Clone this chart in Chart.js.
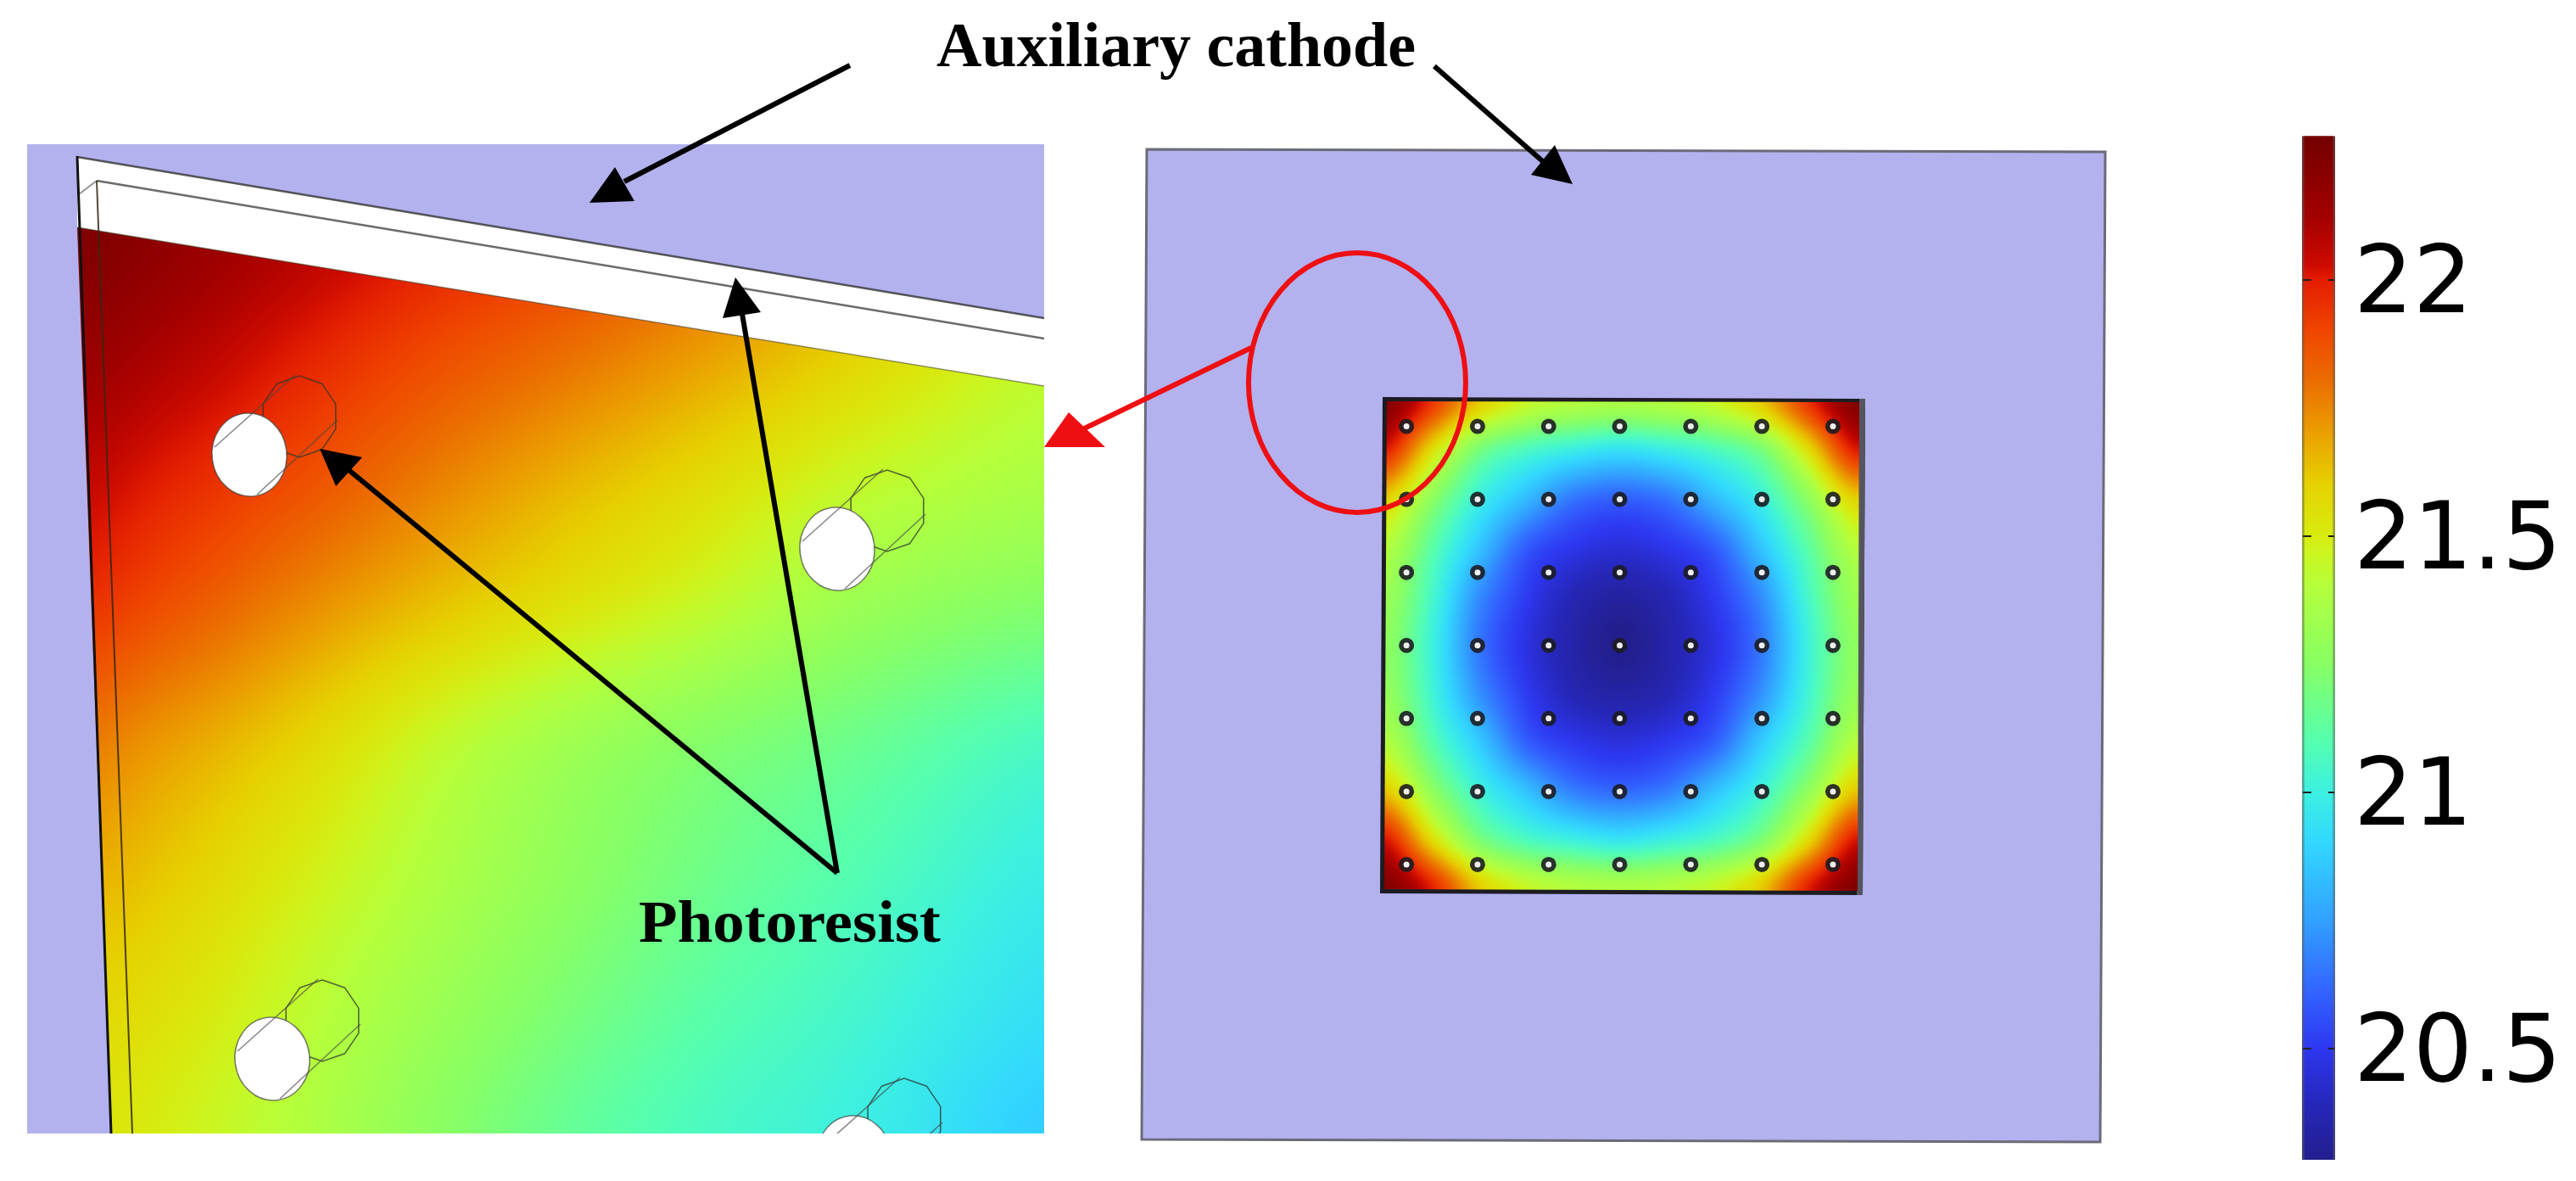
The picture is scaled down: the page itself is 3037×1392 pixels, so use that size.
<!DOCTYPE html>
<html>
<head>
<meta charset="utf-8">
<title>Auxiliary cathode</title>
<script src="https://cdn.jsdelivr.net/npm/chart.js@4/dist/chart.umd.js"></script>
<style>
  body { margin: 0; background: #fff; }
  #wrap { position: relative; width: 3037px; height: 1392px; overflow: hidden; }
  canvas { position: absolute; top: 0; }
  #figure { left: 0; }
  #colorbar { left: 2700px; }
</style>
</head>
<body>
<div id="wrap">
  <canvas id="figure" width="3037" height="1392"></canvas>
  <canvas id="colorbar" width="337" height="1392"></canvas>
</div>
<script>
// colour scale
var stopValues = [20.28, 20.4, 20.5, 20.6, 20.75, 20.9, 21, 21.1, 21.25, 21.4, 21.47, 21.5, 21.6, 21.7, 21.8, 21.9, 22, 22.03, 22.12, 22.28];
var stopColors = [
  [35, 30, 140], [38, 40, 190], [45, 55, 240], [50, 95, 255], [50, 160, 255], [50, 215, 255],
  [60, 240, 225], [85, 255, 175], [135, 255, 100], [180, 255, 60], [205, 245, 30], [215, 235, 15], [230, 210, 0],
  [235, 160, 0], [235, 110, 0], [240, 70, 0], [228, 28, 0], [205, 10, 0], [165, 0, 0], [115, 0, 0]
];
var barTicks = [20.5, 21, 21.5, 22];
var barRange = [20.283, 22.281];

// pillars on the plate, column and row numbers
var pillarCols = [0, 1, 2, 3, 4, 5, 6];
var pillarRows = [0, 1, 2, 3, 4, 5, 6];

// thickness read on the plate, in pillar units
var plateU = [-0.31, 0.35, 1.01, 1.68, 2.34, 3.0, 3.66, 4.33, 4.99, 5.65, 6.32];
var plateV = [-0.34, 0.33, 0.99, 1.66, 2.32, 2.99, 3.65, 4.32, 4.98, 5.65, 6.31];
var plateField = [
  [22.24, 21.95, 21.62, 21.46, 21.4, 21.38, 21.4, 21.46, 21.62, 21.95, 22.24],
  [22.0, 21.55, 21.2, 21.06, 20.98, 20.93, 20.98, 21.06, 21.2, 21.55, 22.0],
  [21.6, 21.27, 21.0, 20.82, 20.65, 20.6, 20.65, 20.82, 21.0, 21.27, 21.6],
  [21.4, 21.12, 20.85, 20.59, 20.49, 20.45, 20.49, 20.59, 20.85, 21.12, 21.4],
  [21.32, 21.05, 20.71, 20.51, 20.38, 20.33, 20.38, 20.51, 20.71, 21.05, 21.32],
  [21.28, 21.01, 20.66, 20.47, 20.35, 20.28, 20.35, 20.47, 20.66, 21.01, 21.28],
  [21.3, 21.03, 20.72, 20.51, 20.38, 20.34, 20.38, 20.51, 20.72, 21.03, 21.3],
  [21.4, 21.11, 20.87, 20.6, 20.5, 20.46, 20.5, 20.6, 20.87, 21.11, 21.4],
  [21.62, 21.28, 21.02, 20.84, 20.67, 20.62, 20.67, 20.84, 21.02, 21.28, 21.62],
  [22.02, 21.56, 21.22, 21.07, 21.0, 20.95, 21.0, 21.07, 21.22, 21.56, 22.02],
  [22.24, 22.0, 21.62, 21.46, 21.4, 21.38, 21.4, 21.46, 21.62, 22.0, 22.24]
];

// thickness read on the enlarged corner, in figure units
var detailX = [90, 166, 332, 498, 663, 829, 995, 1235];
var detailY = [268, 402, 580, 700, 877, 1053, 1200, 1340];
var detailField = [
  [22.24, 22.2, 22.1, 22.0, 21.92, 21.82, 21.7, 21.55],
  [22.17, 22.12, 22.01, 21.9, 21.81, 21.71, 21.6, 21.45],
  [22.05, 21.99, 21.88, 21.76, 21.65, 21.55, 21.44, 21.36],
  [21.96, 21.9, 21.77, 21.65, 21.55, 21.45, 21.33, 21.25],
  [21.78, 21.72, 21.6, 21.45, 21.33, 21.24, 21.17, 21.06],
  [21.66, 21.62, 21.5, 21.38, 21.27, 21.17, 21.09, 20.98],
  [21.58, 21.55, 21.44, 21.32, 21.21, 21.11, 21.04, 20.93],
  [21.53, 21.5, 21.4, 21.27, 21.15, 21.06, 21.0, 20.87]
];

// enlarged holes: centre of the white ellipse in figure units
var holeX = [294, 987, 321, 1007];
var holeY = [536, 647, 1248, 1364];

var labelNames = ['Auxiliary cathode', 'Photoresist'];

var LAVENDER = '#b3b2ef';

function lerpColor(v) {
  var n = stopValues.length;
  if (v <= stopValues[0]) return stopColors[0];
  if (v >= stopValues[n - 1]) return stopColors[n - 1];
  var i = 0;
  while (v > stopValues[i + 1]) i++;
  var t = (v - stopValues[i]) / (stopValues[i + 1] - stopValues[i]);
  var a = stopColors[i], b = stopColors[i + 1];
  return [a[0] + (b[0] - a[0]) * t, a[1] + (b[1] - a[1]) * t, a[2] + (b[2] - a[2]) * t];
}

function gridPos(axis, v) {
  var n = axis.length, i = 0;
  if (v <= axis[0]) return 0;
  if (v >= axis[n - 1]) return n - 1;
  while (v > axis[i + 1]) i++;
  return i + (v - axis[i]) / (axis[i + 1] - axis[i]);
}

function cubic(p0, p1, p2, p3, t) {
  return p1 + 0.5 * t * (p2 - p0 + t * (2 * p0 - 5 * p1 + 4 * p2 - p3 + t * (3 * (p1 - p2) + p3 - p0)));
}

function sampleField(field, gx, gy) {
  var rows = field.length, cols = field[0].length;
  var ix = Math.min(Math.floor(gx), cols - 2), iy = Math.min(Math.floor(gy), rows - 2);
  var tx = gx - ix, ty = gy - iy;
  var col = [];
  for (var k = -1; k <= 2; k++) {
    var r = field[Math.max(0, Math.min(rows - 1, iy + k))];
    col.push(cubic(r[Math.max(0, ix - 1)], r[ix], r[ix + 1], r[Math.min(cols - 1, ix + 2)], tx));
  }
  return cubic(col[0], col[1], col[2], col[3], ty);
}

// paints a field through the scales, box is in canvas pixels
function paintField(ctx, xs, ys, axisX, axisY, field, box, blur) {
  var w = box[2] - box[0], h = box[3] - box[1];
  var off = document.createElement('canvas');
  off.width = w; off.height = h;
  var octx = off.getContext('2d');
  var img = octx.createImageData(w, h);
  var gxs = [];
  for (var i = 0; i < w; i++) gxs.push(gridPos(axisX, xs.getValueForPixel(box[0] + i)));
  var p = 0;
  for (var j = 0; j < h; j++) {
    var gy = gridPos(axisY, ys.getValueForPixel(box[1] + j));
    for (var q = 0; q < w; q++) {
      var c = lerpColor(sampleField(field, gxs[q], gy));
      img.data[p++] = c[0]; img.data[p++] = c[1]; img.data[p++] = c[2]; img.data[p++] = 255;
    }
  }
  octx.putImageData(img, 0, 0);
  ctx.save();
  ctx.filter = 'blur(' + blur + 'px)';
  ctx.drawImage(off, box[0], box[1]);
  ctx.restore();
}

function poly(ctx, pts) {
  ctx.beginPath();
  ctx.moveTo(pts[0][0], pts[0][1]);
  for (var i = 1; i < pts.length; i++) ctx.lineTo(pts[i][0], pts[i][1]);
  ctx.closePath();
}

function segment(ctx, a, b, color, width) {
  ctx.strokeStyle = color;
  ctx.lineWidth = width;
  ctx.beginPath();
  ctx.moveTo(a[0], a[1]);
  ctx.lineTo(b[0], b[1]);
  ctx.stroke();
}

function drawHole(ctx, cx, cy) {
  var ox = cx + 59, oy = cy - 45, i, pts = [];
  // far end of the hole, a rough polygon
  for (i = 0; i < 10; i++) {
    var a = -Math.PI / 2 + i * Math.PI / 5;
    pts.push([ox + 45 * Math.cos(a), oy + 48 * Math.sin(a)]);
  }
  ctx.strokeStyle = 'rgba(45,55,45,0.75)';
  ctx.lineWidth = 1.6;
  poly(ctx, pts);
  ctx.stroke();
  ctx.beginPath();
  ctx.ellipse(cx, cy, 44, 49, -0.12, 0, Math.PI * 2);
  ctx.fillStyle = '#fff';
  ctx.fill();
  ctx.strokeStyle = 'rgba(70,70,70,0.7)';
  ctx.lineWidth = 1.5;
  ctx.stroke();
  segment(ctx, [cx - 41, cy - 9], [cx + 54, cy - 94], 'rgba(70,70,70,0.65)', 1.6);
  segment(ctx, [cx + 9, cy + 47], [cx + 104, cy - 41], 'rgba(70,70,70,0.65)', 1.6);
}

var arrows = [
  { from: [1002, 77], to: [736, 214], head: [[725, 197], [695, 239], [748, 237]], color: '#000' },
  { from: [1691, 78], to: [1830, 200], head: [[1833, 171], [1805, 206], [1854, 217]], color: '#000' },
  { from: [987, 1029], to: [410, 553], head: [[377, 529], [427, 539], [396, 573]], color: '#000' },
  { from: [987, 1029], to: [875, 370], head: [[867, 327], [852, 375], [897, 368]], color: '#000' },
  { from: [1475, 410], to: [1268, 510], head: [[1231, 527], [1260, 486], [1303, 527]], color: '#ee0f13' }
];

function fittedText(ctx, text, x0, x1, baseline, font) {
  ctx.save();
  ctx.font = font;
  ctx.fillStyle = '#000';
  ctx.textBaseline = 'alphabetic';
  var w = ctx.measureText(text).width;
  ctx.translate(x0, baseline);
  ctx.scale((x1 - x0) / w, 1);
  ctx.fillText(text, 0, 0);
  ctx.restore();
}

var backdrop = {
  id: 'backdrop',
  beforeDatasetsDraw: function (chart) {
    var ctx = chart.ctx, s = chart.scales;
    ctx.save();
    ctx.fillStyle = '#fff';
    ctx.fillRect(0, 0, chart.width, chart.height);

    // enlarged corner
    ctx.save();
    ctx.beginPath();
    ctx.rect(32, 170, 1199, 1166);
    ctx.clip();
    ctx.fillStyle = LAVENDER;
    ctx.fillRect(32, 170, 1199, 1166);
    poly(ctx, [[91, 185], [1231, 375], [1231, 455], [91, 268]]);
    ctx.fillStyle = '#fff';
    ctx.fill();
    ctx.save();
    poly(ctx, [[91, 268], [1231, 455], [1231, 1336], [131, 1336]]);
    ctx.clip();
    paintField(ctx, s.x, s.y, detailX, detailY, detailField, [30, 200, 1300, 1400], 22);
    ctx.restore();
    segment(ctx, [91, 185], [1231, 375], 'rgba(50,50,50,0.8)', 2.5);
    segment(ctx, [114, 213], [1231, 399], 'rgba(70,70,70,0.8)', 2.5);
    segment(ctx, [91, 268], [1231, 455], 'rgba(60,60,30,0.5)', 1.5);
    segment(ctx, [93, 229], [114, 213], 'rgba(120,120,120,0.8)', 2);
    segment(ctx, [91, 184], [131, 1336], '#111', 3);
    segment(ctx, [114, 213], [156, 1336], 'rgba(50,40,20,0.85)', 2);
    for (var i = 0; i < holeX.length; i++) drawHole(ctx, holeX[i], holeY[i]);
    ctx.restore();

    // plate
    poly(ctx, [[1352, 176], [2482, 179], [2476, 1346], [1346, 1343]]);
    ctx.fillStyle = LAVENDER;
    ctx.fill();
    ctx.strokeStyle = '#6b6b78';
    ctx.lineWidth = 3;
    ctx.stroke();
    poly(ctx, [[1630, 468], [2199, 470], [2196, 1055], [1627, 1053]]);
    ctx.fillStyle = '#1c1c22';
    ctx.fill();
    poly(ctx, [[2192, 470], [2199, 470], [2196, 1055], [2189, 1055]]);
    ctx.fillStyle = '#55555f';
    ctx.fill();
    ctx.save();
    poly(ctx, [[1635, 473], [2192, 474], [2190, 1050], [1632, 1048]]);
    ctx.clip();
    paintField(ctx, s.xPlate, s.yPlate, plateU, plateV, plateField, [1600, 440, 2224, 1084], 4);
    ctx.restore();
    ctx.restore();
  },
  afterDatasetsDraw: function (chart) {
    var ctx = chart.ctx;
    ctx.save();
    // red ring on the plate
    ctx.beginPath();
    ctx.ellipse(1600, 451, 128, 153, 0, 0, Math.PI * 2);
    ctx.strokeStyle = '#ee0f13';
    ctx.lineWidth = 6;
    ctx.stroke();
    arrows.forEach(function (a) {
      segment(ctx, a.from, a.to, a.color, 6);
      poly(ctx, a.head);
      ctx.fillStyle = a.color;
      ctx.fill();
    });
    fittedText(ctx, labelNames[0], 1104, 1669, 78, 'bold 74px "Liberation Serif"');
    fittedText(ctx, labelNames[1], 753, 1109, 1110, 'bold 70px "Liberation Serif"');
    ctx.restore();
  }
};

var pillarPoints = [];
pillarRows.forEach(function (r) {
  pillarCols.forEach(function (c) {
    pillarPoints.push({ x: c, y: r });
  });
});

new Chart(document.getElementById('figure'), {
  type: 'scatter',
  data: {
    datasets: [
      { label: 'pillar centre', data: pillarPoints, xAxisID: 'xPlate', yAxisID: 'yPlate',
        pointRadius: 3.5, backgroundColor: '#eeeeee', borderWidth: 0 },
      { label: 'pillar', data: pillarPoints, xAxisID: 'xPlate', yAxisID: 'yPlate',
        pointRadius: 9, backgroundColor: 'rgba(28,28,34,0.9)', borderWidth: 0 }
    ]
  },
  plugins: [backdrop],
  options: {
    responsive: false,
    animation: false,
    layout: { padding: 0 },
    plugins: { legend: { display: false }, tooltip: { enabled: false } },
    scales: {
      x: { type: 'linear', display: false, min: 0, max: 3037 },
      y: { type: 'linear', display: false, min: 0, max: 1392, reverse: true },
      xPlate: { type: 'linear', display: false, min: -1659 / 84.3, max: (3037 - 1659) / 84.3 },
      yPlate: { type: 'linear', display: false, min: -500 / 87.2, max: (1392 - 500) / 87.2, reverse: true }
    }
  }
});

function barFill(chart, dark) {
  var sc = chart.scales.y, n = stopValues.length;
  var y0 = sc ? sc.getPixelForValue(stopValues[n - 1]) : NaN;
  var y1 = sc ? sc.getPixelForValue(stopValues[0]) : NaN;
  if (!isFinite(y0) || !isFinite(y1)) return '#888';
  var g = chart.ctx.createLinearGradient(0, y0, 0, y1);
  for (var i = n - 1; i >= 0; i--) {
    var c = stopColors[i];
    var off = (stopValues[n - 1] - stopValues[i]) / (stopValues[n - 1] - stopValues[0]);
    var k = dark ? 0.5 : 1, m = dark ? 45 : 0;
    g.addColorStop(off, 'rgb(' + (c[0] * k + m) + ',' + (c[1] * k + m) + ',' + (c[2] * k + m) + ')');
  }
  return g;
}

var barTickMarks = {
  id: 'barTickMarks',
  afterDatasetsDraw: function (chart) {
    var ctx = chart.ctx, a = chart.chartArea, sc = chart.scales.y;
    barTicks.forEach(function (v) {
      var y = sc.getPixelForValue(v);
      segment(ctx, [a.left + 1, y], [a.left + 11, y], '#222', 2);
      segment(ctx, [a.right - 8, y], [a.right - 1, y], '#222', 2);
    });
  }
};

new Chart(document.getElementById('colorbar'), {
  type: 'bar',
  data: {
    labels: ['thickness'],
    datasets: [{
      data: [barRange],
      barPercentage: 1,
      categoryPercentage: 1,
      borderSkipped: false,
      borderWidth: { left: 3, right: 3, top: 0, bottom: 0 },
      backgroundColor: function (c) { return barFill(c.chart, false); },
      borderColor: function (c) { return barFill(c.chart, true); }
    }]
  },
  plugins: [barTickMarks],
  options: {
    responsive: false,
    animation: false,
    layout: { padding: { left: 14, right: 0, top: 0, bottom: 0 } },
    plugins: { legend: { display: false }, tooltip: { enabled: false } },
    scales: {
      x: { display: false },
      y: {
        position: 'right',
        min: 22 - (1392 - 330) / 604,
        max: 22 + 330 / 604,
        grid: { display: false },
        border: { display: false },
        afterBuildTicks: function (scale) {
          scale.ticks = barTicks.map(function (v) { return { value: v }; });
        },
        afterFit: function (scale) {
          scale.width = 284;
          scale.paddingTop = 0;
          scale.paddingBottom = 0;
        },
        ticks: {
          padding: 14,
          labelOffset: 9,
          autoSkip: false,
          color: '#000',
          font: { family: '"DejaVu Sans"', size: 110 },
          callback: function (v) { return String(v); }
        }
      }
    }
  }
});
</script>
</body>
</html>
